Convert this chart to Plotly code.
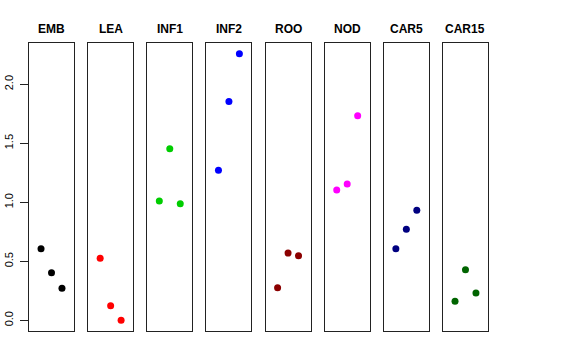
import plotly.graph_objects as go

categories = ["EMB", "LEA", "INF1", "INF2", "ROO", "NOD", "CAR5", "CAR15"]
emb = [0.607, 0.403, 0.271]
lea = [0.525, 0.124, 0.0]
inf1 = [1.011, 1.454, 0.988]
inf2 = [1.271, 1.853, 2.259]
roo = [0.276, 0.570, 0.547]
nod = [1.104, 1.155, 1.734]
car5 = [0.607, 0.771, 0.932]
car15 = [0.161, 0.429, 0.231]
series = [emb, lea, inf1, inf2, roo, nod, car5, car15]
colors = ["#000000", "#FF0000", "#00CD00", "#0000FF", "#8B0000", "#FF00FF", "#000080", "#006400"]
positions = [1, 2, 3]
y_ticks = [0.0, 0.5, 1.0, 1.5, 2.0]
y_tick_labels = ["0.0", "0.5", "1.0", "1.5", "2.0"]

W, H = 576, 360
ml, mr, mt, mb = 29, 88, 43, 29
plot_w = W - ml - mr
panel_w = 45.0
step = 59.14

ymin = min(min(s) for s in series)
ymax = max(max(s) for s in series)
pad = 0.04 * (ymax - ymin)
yrange = [ymin - pad, ymax + pad]

fig = go.Figure()
layout = dict(
    width=W, height=H,
    margin=dict(l=ml, r=mr, t=mt, b=mb, autoexpand=False),
    paper_bgcolor="white", plot_bgcolor="white",
    showlegend=False,
    font=dict(family="Liberation Sans, Arial, Helvetica, sans-serif", color="black"),
    annotations=[],
)

for i, (cat, vals, col) in enumerate(zip(categories, series, colors)):
    n = "" if i == 0 else str(i + 1)
    x0 = (i * step) / plot_w
    x1 = (i * step + panel_w) / plot_w
    fig.add_trace(go.Scatter(
        x=positions, y=vals, mode="markers",
        marker=dict(color=col, size=7),
        xaxis="x" + n, yaxis="y" + n, hoverinfo="y",
    ))
    layout["xaxis" + n] = dict(
        domain=[x0, min(x1, 1.0)], anchor="y" + n, range=[-0.15, 4.15],
        showticklabels=False, ticks="", showgrid=False, zeroline=False,
        showline=True, linecolor="#222222", linewidth=1, mirror=True,
        automargin=False,
    )
    yax = dict(
        domain=[0, 1], anchor="x" + n, range=yrange,
        showgrid=False, zeroline=False, automargin=False,
        showline=True, linecolor="#222222", linewidth=1, mirror=True,
    )
    if i == 0:
        yax.update(
            tickmode="array", tickvals=y_ticks, ticktext=y_tick_labels,
            ticks="outside", ticklen=8, tickcolor="#222222", tickwidth=1,
            tickangle=-90, tickfont=dict(size=11, color="black"),
            ticklabelstandoff=3,
        )
    else:
        yax.update(showticklabels=False, ticks="")
    layout["yaxis" + n] = yax
    layout["annotations"].append(dict(
        text="<b>" + cat + "</b>", x=(x0 + x1) / 2, y=1, xref="paper", yref="paper",
        xanchor="center", yanchor="middle", yshift=14, showarrow=False,
        font=dict(size=12, color="black"),
    ))

fig.update_layout(**layout)
fig.write_html("out.html", config={"displayModeBar": False},
               post_script="document.body.style.margin='0px';")
